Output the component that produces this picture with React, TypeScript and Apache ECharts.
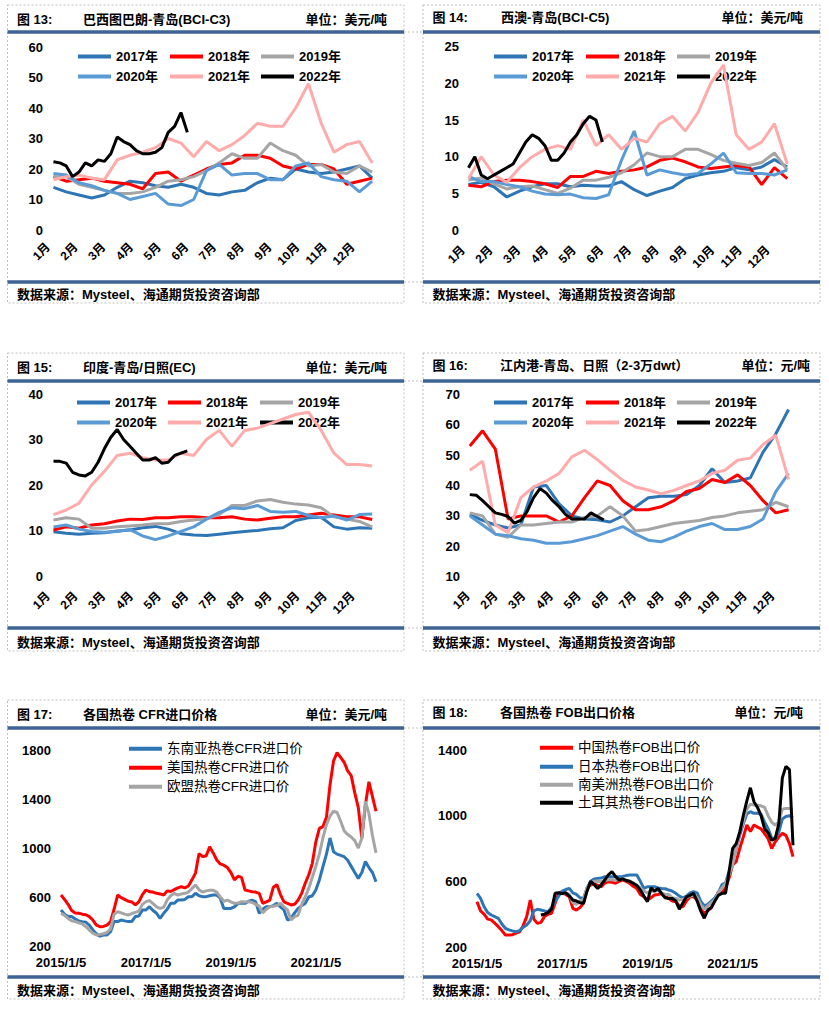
import React, { useEffect, useRef } from "react";
import * as echarts from "echarts";

// ---------- shared ----------
const YEAR_NAMES = ["2017年", "2018年", "2019年", "2020年", "2021年", "2022年"];
const YEAR_COLORS = ["#2E75B6", "#FF0000", "#A5A5A5", "#5B9BD5", "#FFABAB", "#000000"];
const MONTH_NAMES = ["1月", "2月", "3月", "4月", "5月", "6月", "7月", "8月", "9月", "10月", "11月", "12月"];

// ---------- 图13 巴西图巴朗-青岛 (biweekly 2017-2021, weekly 2022) ----------
const p13_2017 = [14, 12.5, 11.5, 10.5, 11.5, 14, 16, 15.5, 14.5, 14, 15, 14, 12, 11.5, 12.5, 13, 15.5, 17, 16.5, 20, 19, 18.5, 19, 20, 21, 17];
const p13_2018 = [17.5, 16, 16.5, 17, 16, 15.5, 15, 13.5, 18.5, 19, 16, 18, 20, 21.5, 22, 24.5, 24.5, 23.5, 21, 20, 21.5, 21.5, 20, 15, 16, 17];
const p13_2019 = [17.5, 17.5, 15, 14, 13, 12, 12, 12.5, 14, 16, 16.5, 17.5, 19.5, 22, 25, 23.5, 23.5, 28.5, 26, 24.5, 21, 21.5, 19, 18.5, 21, 19];
const p13_2020 = [18.5, 18, 15.5, 14.5, 13, 12, 10, 11, 12, 8.5, 8, 10, 19.5, 21.5, 18, 18.5, 18.5, 16.5, 16.5, 21, 22, 17.5, 16.5, 16, 12.5, 16];
const p13_2021 = [16.5, 17.5, 18, 17, 16.5, 23, 24.5, 25.5, 27, 30, 28.5, 24, 29, 26, 28, 31, 35, 34, 34, 40, 48, 35, 25.5, 28, 29, 22];
const p13_2022 = [22.4, 22, 21, 17.5, 19, 22, 21, 23, 22.5, 25, 30.5, 29, 28, 26, 25, 25, 25.5, 27, 32, 34, 38.5, 32];

// ---------- 图14 西澳-青岛 ----------
const p14_2017 = [6.2, 6.5, 5.9, 4.5, 5.3, 5.9, 6.3, 6.3, 5.9, 6.1, 6.0, 6.0, 6.6, 5.5, 4.7, 5.3, 5.8, 7.0, 7.5, 7.8, 8.0, 8.5, 8.2, 8.6, 9.6, 8.6];
const p14_2018 = [6.1, 5.9, 6.6, 6.8, 6.8, 6.6, 6.3, 5.8, 7.3, 7.3, 8.0, 7.7, 8.0, 8.2, 8.6, 9.5, 9.8, 9.3, 8.6, 8.4, 8.6, 8.8, 8.6, 6.2, 8.5, 7.0];
const p14_2019 = [6.8, 7.1, 6.3, 5.6, 5.9, 6.0, 5.5, 5.0, 5.7, 6.8, 6.8, 7.2, 7.8, 8.9, 10.5, 10.0, 10.0, 11.0, 11.0, 10.3, 9.5, 9.1, 8.8, 9.2, 10.5, 8.2];
const p14_2020 = [7.3, 6.6, 6.6, 6.2, 5.9, 5.3, 4.9, 4.8, 4.9, 4.4, 4.3, 4.8, 9.5, 13.5, 7.5, 8.2, 7.8, 7.5, 7.7, 9.0, 10.5, 7.8, 7.7, 7.7, 7.5, 8.2];
const p14_2021 = [7, 10, 7.5, 6.5, 8.5, 10, 11, 11.5, 11, 15, 11.5, 13, 11, 12.5, 12, 14.5, 15.5, 13.5, 16, 20, 22.5, 13, 11, 12, 14.5, 9];
const p14_2022 = [8.5, 10, 7.5, 7, 7.5, 8, 8.5, 9, 10.5, 12, 13, 12.5, 11.5, 9.5, 9.5, 10.5, 12, 13, 14.5, 15.5, 15, 12];

// ---------- 图15 印度-青岛/日照 ----------
const p15_2017 = [9.7, 9.4, 9.2, 9.4, 9.5, 9.9, 10.1, 10.6, 10.9, 10.3, 9.3, 9.0, 8.9, 9.2, 9.5, 9.8, 10.0, 10.4, 10.6, 12.2, 12.8, 12.9, 10.8, 10.3, 10.6, 10.5];
const p15_2018 = [10.1, 10.8, 10.5, 11.2, 11.5, 12.1, 12.5, 12.4, 12.8, 12.8, 13.0, 13.0, 12.8, 12.8, 13.0, 12.5, 12.3, 12.7, 13.0, 13.0, 13.4, 13.8, 13.4, 13.0, 13.0, 12.4];
const p15_2019 = [12.3, 12.8, 12.5, 10.5, 10.5, 10.8, 11.0, 11.2, 11.5, 11.5, 12.0, 12.3, 12.6, 13.5, 15.5, 15.5, 16.5, 16.8, 16.2, 15.8, 15.6, 15.0, 13.0, 12.5, 12.0, 10.8];
const p15_2020 = [10.8, 11.2, 10.3, 9.8, 9.6, 9.8, 10.2, 8.8, 8.0, 8.8, 9.8, 10.8, 12.5, 14.0, 15.0, 14.8, 15.5, 14.2, 14.0, 14.2, 13.3, 12.8, 13.2, 12.3, 13.5, 13.6];
const p15_2021 = [13.5, 14.5, 16, 20, 23, 26.5, 27, 26, 25.5, 25.5, 27, 26.5, 30, 32, 28.5, 32, 32.5, 33.5, 34.5, 35.5, 36, 32, 27, 24.5, 24.5, 24.2];
const p15_2022 = [25.2, 25.2, 24.8, 22.8, 22.2, 22.0, 22.8, 25.0, 28.0, 30.5, 32.2, 30.0, 28.5, 27.0, 25.5, 25.5, 26.0, 24.8, 25.0, 26.5, 27.0, 27.5];

// ---------- 图16 江内港-青岛、日照 ----------
const p16_2017 = [30.5, 28.5, 27, 26, 27, 39.5, 40, 34, 30, 29, 28.7, 28, 30, 33, 36, 36.5, 36.5, 37, 40, 45.5, 41, 41.5, 42.5, 51, 57, 65];
const p16_2018 = [53, 58, 52, 29, 30, 30, 30, 28, 30, 36, 41.5, 40, 35, 32, 32, 33, 35, 38, 39, 42, 41, 43.5, 40, 35, 31, 32];
const p16_2019 = [31, 30, 24, 23, 27, 27, 27.5, 28, 28, 29.5, 30, 33, 30, 25, 25.5, 26.5, 27.5, 28, 28.5, 29.5, 30, 31, 31.5, 32, 34.5, 33];
const p16_2020 = [30, 27, 24, 23.5, 22.5, 22, 21, 21, 21.5, 22.5, 23.5, 25, 26.5, 24, 22, 21.5, 23, 25, 26.5, 27.5, 25.5, 25.5, 26.5, 29, 38, 44];
const p16_2021 = [45, 48, 27, 24.5, 36, 39.5, 41.5, 44, 49.4, 51.6, 48.5, 45, 41.7, 39.5, 38.5, 37.3, 38.4, 40, 41.5, 44, 45, 48.3, 49, 53.5, 56.5, 42];
const p16_2022 = [37, 36.8, 35, 33, 31, 30.5, 29.8, 27.6, 28.5, 31.5, 36, 39, 37.5, 35, 33, 30.5, 29, 29, 29, 31, 29.8, 28.7];

// ---------- 图17 各国热卷CFR进口价 (monthly, 2015/1 - 2022/6) ----------
const CFR_NAMES = ["东南亚热卷CFR进口价", "美国热卷CFR进口价", "欧盟热卷CFR进口价"];
const CFR_COLORS = ["#2E75B6", "#FF0000", "#A5A5A5"];
const cfrSea = [494, 460, 440, 440, 420, 405, 399, 395, 371, 331, 300, 280, 290, 290, 317, 399, 400, 412, 405, 399, 400, 440, 445, 494, 494, 521, 490, 467, 426, 467, 500, 548, 548, 575, 575, 580, 603, 603, 630, 610, 603, 603, 610, 616, 616, 590, 507, 507, 507, 520, 548, 548, 548, 565, 575, 560, 467, 500, 521, 521, 530, 548, 520, 494, 412, 426, 470, 507, 530, 548, 600, 610, 657, 739, 847, 950, 1082, 970, 950, 940, 929, 900, 850, 800, 752, 800, 890, 840, 800, 725];
const cfrUs = [616, 580, 540, 490, 470, 467, 460, 455, 440, 412, 370, 358, 360, 371, 399, 500, 616, 595, 580, 565, 560, 535, 560, 620, 657, 643, 640, 630, 625, 616, 650, 645, 660, 675, 684, 675, 690, 740, 795, 955, 930, 935, 1010, 960, 902, 870, 860, 840, 800, 740, 770, 760, 657, 650, 643, 640, 630, 548, 560, 575, 680, 700, 620, 560, 548, 535, 540, 575, 630, 712, 780, 875, 1050, 1160, 1175, 1250, 1514, 1710, 1778, 1740, 1700, 1630, 1590, 1450, 1330, 1080, 1350, 1540, 1420, 1300];
const cfrEu = [467, 450, 425, 405, 400, 390, 380, 360, 330, 305, 290, 295, 300, 310, 340, 460, 480, 470, 460, 453, 465, 475, 485, 540, 562, 570, 545, 520, 507, 515, 575, 610, 630, 615, 625, 630, 640, 670, 698, 660, 640, 650, 655, 655, 640, 600, 565, 575, 560, 548, 550, 562, 560, 562, 555, 540, 525, 470, 500, 521, 525, 530, 548, 520, 494, 412, 440, 453, 540, 600, 670, 760, 850, 950, 1082, 1190, 1260, 1300, 1290, 1220, 1140, 1110, 1090, 1060, 1000, 1080, 1380, 1280, 1100, 960];

// ---------- 图18 各国热卷FOB出口价 ----------
const FOB_NAMES = ["中国热卷FOB出口价", "日本热卷FOB出口价", "南美洲热卷FOB出口价", "土耳其热卷FOB出口价"];
const FOB_COLORS = ["#FF0000", "#2E75B6", "#A5A5A5", "#000000"];
const fobCn = [476, 420, 400, 370, 365, 345, 324, 300, 273, 273, 275, 285, 293, 330, 385, 486, 370, 344, 350, 385, 400, 405, 466, 527, 537, 520, 506, 435, 425, 440, 466, 560, 577, 588, 575, 567, 590, 598, 595, 588, 600, 608, 600, 588, 570, 557, 520, 506, 486, 500, 517, 520, 527, 510, 496, 480, 476, 450, 445, 480, 506, 506, 490, 430, 405, 420, 440, 486, 537, 530, 560, 620, 700, 720, 800, 870, 943, 903, 943, 930, 920, 890, 860, 800, 841, 870, 892, 880, 830, 750];
const fobJp = [527, 496, 445, 410, 395, 385, 375, 340, 314, 304, 298, 293, 300, 320, 334, 360, 420, 430, 425, 420, 415, 440, 480, 510, 540, 550, 557, 530, 520, 500, 496, 560, 600, 615, 618, 620, 628, 628, 628, 628, 628, 630, 635, 638, 638, 638, 600, 557, 567, 567, 567, 560, 557, 555, 547, 540, 527, 510, 500, 510, 530, 537, 530, 480, 450, 460, 480, 500, 530, 580, 590, 660, 720, 800, 880, 950, 1010, 1024, 1014, 1014, 1010, 960, 920, 862, 862, 900, 980, 995, 1000, 990];
const FOB_SA_START = 24;
const fobSa = [520, 530, 520, 470, 460, 480, 490, 560, 590, 600, 600, 598, 605, 610, 610, 608, 610, 615, 608, 600, 590, 577, 560, 540, 530, 540, 540, 545, 530, 520, 520, 500, 496, 486, 490, 500, 510, 515, 500, 460, 430, 450, 470, 490, 530, 560, 588, 640, 700, 800, 900, 960, 1040, 1070, 1064, 1064, 1060, 1050, 1000, 960, 943, 960, 1040, 1044, 1044, 1040];
const FOB_TR_START = 18;
const fobTr = [395, 400, 410, 430, 527, 530, 525, 530, 510, 486, 480, 470, 466, 540, 600, 580, 557, 580, 608, 640, 659, 630, 608, 615, 605, 600, 588, 575, 547, 510, 476, 560, 540, 557, 525, 500, 496, 495, 480, 430, 470, 506, 515, 527, 480, 420, 375, 425, 440, 480, 515, 527, 527, 660, 800, 830, 900, 1000, 1090, 1170, 1085, 1050, 1000, 920, 895, 850, 862, 950, 1230, 1300, 1280, 820];

const MONTH_CATEGORIES = Array.from({ length: 90 }, (_, i) => `${2015 + Math.floor(i / 12)}/${(i % 12) + 1}/5`);

// ---------- layout ----------
const NUM_FONT = '"Liberation Sans", Arial, "Noto Sans CJK SC", sans-serif';
const CJK_FONT = '"Liberation Sans", Arial, "Noto Sans CJK SC", sans-serif';
const HEAD_BLUE = "#3E6494";
const DASH_GRAY = "#BFBFBF";

type YearPanel = {
  data: number[][];
  firstDay: number;
  grid: { left: number; top: number; width: number; height: number };
  y: { min: number; max: number; interval: number; margin: number };
  labelMargin: number;
  legendCols: number[];
  legendRows: number[];
};

const YEAR_PANELS: YearPanel[] = [
  {
    data: [p13_2017, p13_2018, p13_2019, p13_2020, p13_2021, p13_2022], firstDay: 6,
    grid: { left: 48, top: 47, width: 332.4, height: 183 },
    y: { min: 0, max: 60, interval: 10, margin: 5 }, labelMargin: 15,
    legendCols: [78, 170, 261], legendRows: [57, 77],
  },
  {
    data: [p14_2017, p14_2018, p14_2019, p14_2020, p14_2021, p14_2022], firstDay: 6,
    grid: { left: 463, top: 46.7, width: 332.4, height: 183.3 },
    y: { min: 0, max: 25, interval: 5, margin: 4 }, labelMargin: 18,
    legendCols: [494, 586, 677], legendRows: [57, 77],
  },
  {
    data: [p15_2017, p15_2018, p15_2019, p15_2020, p15_2021, p15_2022], firstDay: 6,
    grid: { left: 48, top: 394, width: 332.4, height: 182 },
    y: { min: 0, max: 40, interval: 10, margin: 5 }, labelMargin: 18,
    legendCols: [77, 168, 260], legendRows: [403, 423],
  },
  {
    data: [p16_2017, p16_2018, p16_2019, p16_2020, p16_2021, p16_2022], firstDay: 2,
    grid: { left: 468, top: 394.3, width: 332.4, height: 182.4 },
    y: { min: 10, max: 70, interval: 10, margin: 8 }, labelMargin: 17,
    legendCols: [494, 586, 677], legendRows: [403, 423],
  },
];

function buildOption() {
  const grids: any[] = [];
  const xAxes: any[] = [];
  const yAxes: any[] = [];
  const series: any[] = [];
  const legends: any[] = [];

  const yLabel = (margin: number) => ({
    fontSize: 13, fontWeight: "bold", color: "#000", fontFamily: NUM_FONT, margin,
    formatter: (v: number) => String(v),
  });
  const hiddenAxis = { axisLine: { show: false }, axisTick: { show: false }, splitLine: { show: false } };

  const mkLegend = (name: string, x: number, cy: number, bold: boolean, size: number) => ({
    left: x, top: cy - 7, padding: 0, selectedMode: false, data: [name], icon: "rect",
    itemWidth: 33, itemHeight: 4,
    textStyle: { fontSize: size, fontWeight: bold ? "bold" : "normal", color: "#000", fontFamily: CJK_FONT },
  });

  YEAR_PANELS.forEach((p, gi) => {
    grids.push({ ...p.grid, outerBoundsMode: "none" });
    xAxes.push({
      type: "value", gridIndex: gi, min: 0, max: 365, interval: 365 / 12, ...hiddenAxis,
      axisLabel: {
        rotate: 45, margin: p.labelMargin, fontSize: 12, fontWeight: "bold", color: "#000", fontFamily: CJK_FONT,
        showMaxLabel: false,
        formatter: (v: number) => {
          const k = Math.round(v / (365 / 12));
          return k < 12 ? MONTH_NAMES[k] : "";
        },
      },
    });
    yAxes.push({
      type: "value", gridIndex: gi, min: p.y.min, max: p.y.max, interval: p.y.interval, ...hiddenAxis,
      axisLabel: yLabel(p.y.margin),
    });
    p.data.forEach((vals, j) => {
      const step = j === 5 ? 7 : 14;
      series.push({
        type: "line", name: YEAR_NAMES[j], xAxisIndex: gi, yAxisIndex: gi,
        data: vals.map((v, i) => [p.firstDay + step * i, v]),
        symbol: "none", color: YEAR_COLORS[j],
        lineStyle: { width: 3, color: YEAR_COLORS[j] }, z: 2 + j,
      });
    });
    YEAR_NAMES.forEach((n, j) => {
      legends.push(mkLegend(n, p.legendCols[j % 3], p.legendRows[Math.floor(j / 3)], true, 13));
    });
  });

  // 图17
  const g17 = grids.length;
  grids.push({ left: 61, top: 750, width: 315, height: 196, outerBoundsMode: "none" });
  // 图18
  const g18 = grids.length;
  grids.push({ left: 477, top: 750, width: 316, height: 197, outerBoundsMode: "none" });

  [g17, g18].forEach((gi) => {
    xAxes.push({
      type: "category", gridIndex: gi, data: MONTH_CATEGORIES, boundaryGap: false, ...hiddenAxis,
      axisLabel: { interval: 23, margin: 10, fontSize: 13, fontWeight: "bold", color: "#000", fontFamily: NUM_FONT },
    });
  });
  yAxes.push({ type: "value", gridIndex: g17, min: 200, max: 1800, interval: 400, ...hiddenAxis, axisLabel: yLabel(10) });
  yAxes.push({ type: "value", gridIndex: g18, min: 200, max: 1400, interval: 400, ...hiddenAxis, axisLabel: yLabel(10) });

  [cfrSea, cfrUs, cfrEu].forEach((vals, j) => {
    series.push({
      type: "line", name: CFR_NAMES[j], xAxisIndex: g17, yAxisIndex: g17,
      data: vals.map((v, i) => [i, v]), symbol: "none", color: CFR_COLORS[j],
      lineStyle: { width: 3, color: CFR_COLORS[j] }, z: 2 + j,
    });
  });
  const fobSets: [number[], number][] = [[fobCn, 0], [fobJp, 0], [fobSa, FOB_SA_START], [fobTr, FOB_TR_START]];
  fobSets.forEach(([vals, start], j) => {
    series.push({
      type: "line", name: FOB_NAMES[j], xAxisIndex: g18, yAxisIndex: g18,
      data: vals.map((v, i) => [start + i, v]), symbol: "none", color: FOB_COLORS[j],
      lineStyle: { width: 3, color: FOB_COLORS[j] }, z: 2 + j,
    });
  });
  const cfrRows = [749, 768, 787];
  CFR_NAMES.forEach((n, j) => legends.push(mkLegend(n, 129, cfrRows[j], false, 13.5)));
  const fobRows = [748, 767, 785, 803];
  FOB_NAMES.forEach((n, j) => legends.push(mkLegend(n, 540, fobRows[j], false, 13.5)));

  // ---------- frames & texts ----------
  const graphics: any[] = [];
  const titleFont = `bold 13px ${CJK_FONT}`;
  const panels = [
    { l: 7.5, r: 404, top: 5, bottom: 303, head: 32, foot: 282, ty: 19, sy: 294, fig: "图 13:", title: "巴西图巴朗-青岛(BCI-C3)", tx: 83, unit: "单位：美元/吨", ux: 387 },
    { l: 423, r: 820, top: 5, bottom: 303, head: 32, foot: 282, ty: 17, sy: 294, fig: "图 14:", title: "西澳-青岛(BCI-C5)", tx: 501, unit: "单位：美元/吨", ux: 803 },
    { l: 7.5, r: 404, top: 353, bottom: 651, head: 381, foot: 628, ty: 367, sy: 642, fig: "图 15:", title: "印度-青岛/日照(EC)", tx: 83, unit: "单位：美元/吨", ux: 387 },
    { l: 423, r: 820, top: 353, bottom: 651, head: 381, foot: 628, ty: 365, sy: 642, fig: "图 16:", title: "江内港-青岛、日照（2-3万dwt）", tx: 500, unit: "单位：元/吨", ux: 810 },
    { l: 7.5, r: 404, top: 700, bottom: 999, head: 728, foot: 977, ty: 714, sy: 990, fig: "图 17:", title: "各国热卷 CFR进口价格", tx: 83, unit: "单位：美元/吨", ux: 387 },
    { l: 423, r: 820, top: 700, bottom: 999, head: 728, foot: 977, ty: 712, sy: 990, fig: "图 18:", title: "各国热卷 FOB出口价格", tx: 500, unit: "单位：元/吨", ux: 803 },
  ];
  panels.forEach((p) => {
    graphics.push({
      type: "rect", silent: true, z: 0,
      shape: { x: p.l, y: p.top, width: p.r - p.l, height: p.bottom - p.top },
      style: { fill: "none", stroke: DASH_GRAY, lineWidth: 1, lineDash: [2, 2] },
    });
    [p.head, p.foot].forEach((y) => {
      graphics.push({
        type: "line", silent: true, z: 1,
        shape: { x1: p.l, y1: y, x2: p.r, y2: y },
        style: { stroke: HEAD_BLUE, lineWidth: 3.5 },
      });
    });
    const figX = p.l + 9.5;
    graphics.push({ type: "text", silent: true, x: figX, y: p.ty, style: { text: p.fig, font: titleFont, fill: "#000", textAlign: "left", textVerticalAlign: "middle" } });
    graphics.push({ type: "text", silent: true, x: p.tx, y: p.ty, style: { text: p.title, font: titleFont, fill: "#000", textAlign: "left", textVerticalAlign: "middle" } });
    graphics.push({ type: "text", silent: true, x: p.ux, y: p.ty, style: { text: p.unit, font: titleFont, fill: "#000", textAlign: "right", textVerticalAlign: "middle" } });
    graphics.push({ type: "text", silent: true, x: figX, y: p.sy, style: { text: "数据来源：Mysteel、海通期货投资咨询部", font: titleFont, fill: "#000", textAlign: "left", textVerticalAlign: "middle" } });
  });
  // dashed connectors between side-by-side panels
  [32, 282, 381, 628, 728, 977].forEach((y) => {
    graphics.push({
      type: "line", silent: true, z: 0,
      shape: { x1: 404, y1: y, x2: 423, y2: y },
      style: { stroke: DASH_GRAY, lineWidth: 1, lineDash: [2, 2] },
    });
  });

  return {
    animation: false,
    backgroundColor: "#fff",
    grid: grids,
    xAxis: xAxes,
    yAxis: yAxes,
    legend: legends,
    series,
    graphic: graphics,
  };
}

export default function App() {
  const ref = useRef<HTMLDivElement>(null);
  useEffect(() => {
    if (!ref.current) return;
    const chart = echarts.init(ref.current, undefined, { renderer: "svg" });
    chart.setOption(buildOption() as any);
    return () => chart.dispose();
  }, []);
  return <div ref={ref} style={{ position: "absolute", left: 0, top: 0, width: 829, height: 1012, background: "#fff" }} />;
}
